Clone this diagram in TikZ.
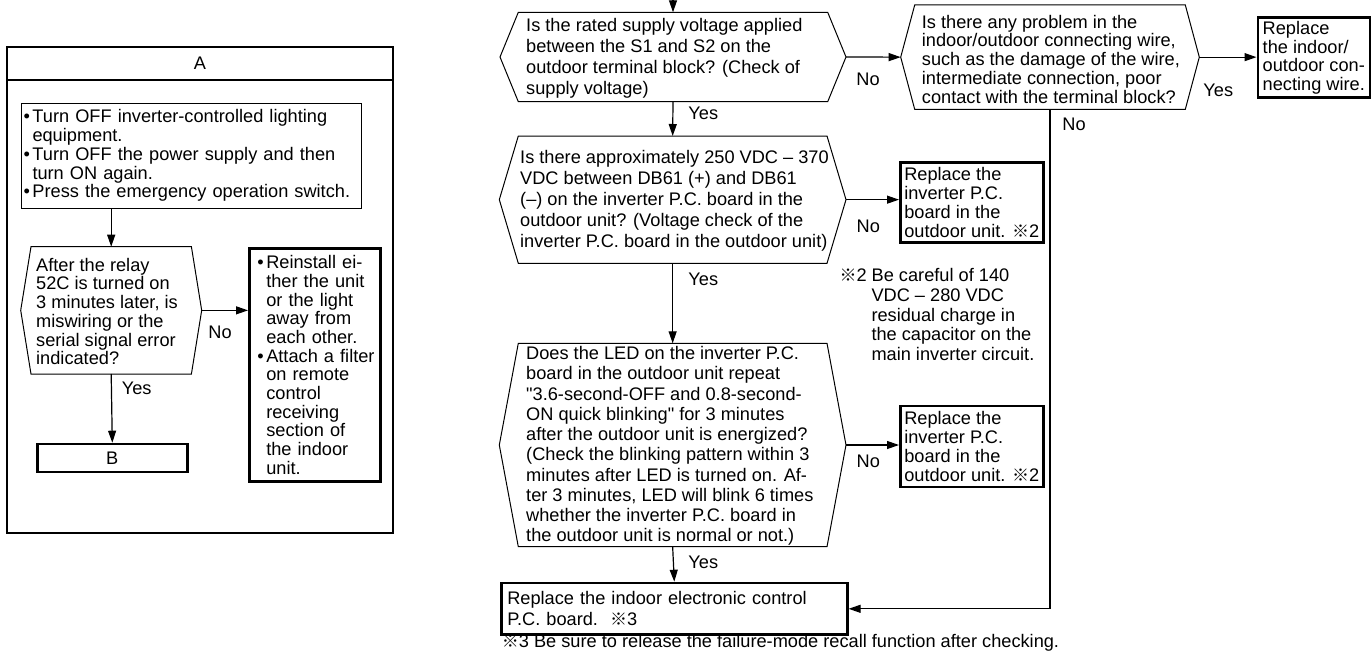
\documentclass[tikz,border=0pt]{standalone}
\usepackage{fontspec}
\setmainfont{Liberation Sans}[Ligatures=TeXOff]
\newfontfamily\refmarkfont{Noto Sans CJK JP}
\usetikzlibrary{arrows.meta}

\newcommand{\rmk}{{\refmarkfont\fontsize{17}{17}\selectfont ※}}
\newcommand{\bul}{\makebox[9pt][l]{•}}
\newcommand{\ind}{\hspace*{9pt}}
\newcommand{\fsz}[1]{\fontsize{18.2}{#1}\selectfont}

% hexagonal decision outline; defines coordinates <name>w, e, n, s
\newcommand{\decisionhex}[6]{%
  \coordinate (#1w) at (#2,{(#4+#5)/2});
  \coordinate (#1e) at (#3,{(#4+#5)/2});
  \coordinate (#1n) at ({(#2+#3)/2},#4);
  \coordinate (#1s) at ({(#2+#3)/2},#5);
  \draw[shapeline] (#1w) -- (#2+#6,#4) -- (#3-#6,#4) -- (#1e)
     -- (#3-#6,#5) -- (#2+#6,#5) -- cycle;
}

\begin{document}
\begin{tikzpicture}[x=1pt,y=-1pt,
  every node/.style={font=\fsz{20}},
  shapeline/.style={line width=1pt},
  conn/.style={line width=1.2pt, -{Triangle[length=12pt,width=8pt]}},
  panelbox/.style={draw, line width=2pt, inner sep=0pt},
  thinbox/.style={draw, line width=1pt, inner ysep=0pt, align=left},
  thickbox/.style={draw, line width=2.6pt, inner ysep=0pt, align=left},
  qtext/.style={inner sep=0pt, align=left, anchor=west},
  lbl/.style={inner sep=0pt},
]
\useasboundingbox (0,0) rectangle (1372,650);

% ---------------- panel A ----------------
\node[panelbox, anchor=north west, minimum width=386pt, minimum height=486pt] (panelA) at (6,46) {};
\node[panelbox, anchor=north west, minimum width=386pt, minimum height=33pt] (hdrA) at (6,46) {A};

\node[thinbox, anchor=north west, minimum width=339.7pt, minimum height=105pt,
      text width=335.7pt, inner xsep=2pt, font=\fsz{18.75}] (lamp) at (21,102.7)
  {\bul Turn OFF inverter-controlled lighting\\
   \ind equipment.\\
   \bul Turn OFF the power supply and then\\
   \ind turn ON again.\\
   \bul Press the emergency operation switch.};

\decisionhex{qL}{20.7}{201.7}{246.7}{374}{10.3}
\node[qtext, font=\fsz{18.7}] (qLt) at (36,311.5)
  {After the relay\\ 52C is turned on\\ 3 minutes later, is\\ miswiring or the\\ serial signal error\\ indicated?};

\node[thickbox, anchor=north west, minimum width=131pt, minimum height=232.7pt,
      text width=123pt, inner xsep=4pt, font=\fsz{18.7}] (fix) at (248,247.3)
  {\hspace*{4pt}\bul Reinstall ei-\\ \hspace*{4pt}\ind ther the unit\\ \hspace*{4pt}\ind or the light\\ \hspace*{4pt}\ind away from\\ \hspace*{4pt}\ind each other.\\
   \hspace*{4pt}\bul Attach a filter\\ \hspace*{4pt}\ind on remote\\ \hspace*{4pt}\ind control\\ \hspace*{4pt}\ind receiving\\ \hspace*{4pt}\ind section of\\ \hspace*{4pt}\ind the indoor\\ \hspace*{4pt}\ind unit.};

\node[thickbox, anchor=north west, minimum width=150pt, minimum height=28pt, align=center] (gotoB) at (36,442.7) {B};

\draw[conn] (lamp.south -| qLn) -- (qLn);
\draw[conn] (qLe) -- (qLe -| fix.west);
\draw[conn] (qLs) -- (gotoB.north);
\node[lbl] (noL) at (220,332) {No};
\node[lbl] (yesL) at (136.7,388) {Yes};

% ---------------- main flow ----------------
\coordinate (entry) at (673,-1);

\decisionhex{qa}{500}{846}{12.3}{101.7}{18.3}
\node[qtext, font=\fsz{21.1}] (qat) at (526,58)
  {Is the rated supply voltage applied\\ between the S1 and S2 on the\\ outdoor terminal block? (Check of\\ supply voltage)};

\decisionhex{qb}{900.7}{1199.3}{5}{109.3}{14}
\node[qtext, font=\fsz{18.75}] (qbt) at (921.7,59)
  {Is there any problem in the\\ indoor/outdoor connecting wire,\\ such as the damage of the wire,\\ intermediate connection, poor\\ contact with the terminal block?};

\node[thickbox, anchor=north west, minimum width=112pt, minimum height=80pt, inner xsep=4pt, font=\fsz{18.9}] (wire) at (1256.5,16.5)
  {Replace\\ the indoor/\\ outdoor con-\\ necting wire.};

\decisionhex{qc}{499.3}{846}{136}{263.3}{19}
\node[qtext, font=\fsz{21}] (qct) at (520,200.3)
  {Is there approximately 250 VDC – 370\\ VDC between DB61 (+) and DB61\\ (–) on the inverter P.C. board in the\\ outdoor unit? (Voltage check of the\\ inverter P.C. board in the outdoor unit)};

\node[thickbox, anchor=north west, minimum width=142pt, minimum height=80pt, inner xsep=4pt, font=\fsz{19.2}] (boardA) at (899,161)
  {Replace the\\ inverter P.C.\\ board in the\\ outdoor unit. \rmk2};

\node[qtext, font=\fsz{19.7}] (note2) at (839.3,314.5)
  {\rmk2 Be careful of 140\\ \hspace*{32pt}VDC – 280 VDC\\ \hspace*{32pt}residual charge in\\ \hspace*{32pt}the capacitor on the\\ \hspace*{32pt}main inverter circuit.};

\decisionhex{qd}{499.3}{846}{343.3}{546.7}{19}
\node[qtext, font=\fsz{20.25}] (qdt) at (526,446)
  {Does the LED on the inverter P.C.\\ board in the outdoor unit repeat\\ "3.6-second-OFF and 0.8-second-\\ ON quick blinking" for 3 minutes\\ after the outdoor unit is energized?\\
   (Check the blinking pattern within 3\\ minutes after LED is turned on. Af-\\ ter 3 minutes, LED will blink 6 times\\ whether the inverter P.C. board in\\ the outdoor unit is normal or not.)};

\node[thickbox, anchor=north west, minimum width=142pt, minimum height=81pt, inner xsep=4pt, font=\fsz{19.2}] (boardB) at (899,404.5)
  {Replace the\\ inverter P.C.\\ board in the\\ outdoor unit. \rmk2};

\node[thickbox, anchor=north west, minimum width=346pt, minimum height=51.6pt,
      text width=334pt, inner xsep=6pt, font=\fsz{21}] (ctrl) at (500,581.7)
  {Replace the indoor electronic control\\ P.C. board.\hspace{12pt}\rmk3};

\node[qtext, font=\fsz{20}] (note3) at (501.7,643)
  {\rmk3 Be sure to release the failure-mode recall function after checking.};

% connectors
\draw[conn] (entry) -- (qan);
\draw[conn] (qae) -- (qbw);
\draw[conn] (qbe) -- (qbe -| wire.west);
\draw[conn] (qbs) |- (ctrl.east);
\draw[conn] (qas) -- (qcn);
\draw[conn] (qce) -- (qce -| boardA.west);
\draw[conn] (qcs) -- (qdn);
\draw[conn] (qde) -- (qde -| boardB.west);
\draw[conn] (qds) -- (ctrl.north);

% branch labels
\node[lbl] (noA) at (868,79) {No};
\node[lbl] (yesA) at (703.3,113.3) {Yes};
\node[lbl] (yesB) at (1218.3,90) {Yes};
\node[lbl] (noB) at (1074,124) {No};
\node[lbl] (noC) at (868.3,226.7) {No};
\node[lbl] (yesC) at (703.3,279) {Yes};
\node[lbl] (noD) at (868.3,461.7) {No};
\node[lbl] (yesD) at (703.3,562.7) {Yes};
\end{tikzpicture}
\end{document}
